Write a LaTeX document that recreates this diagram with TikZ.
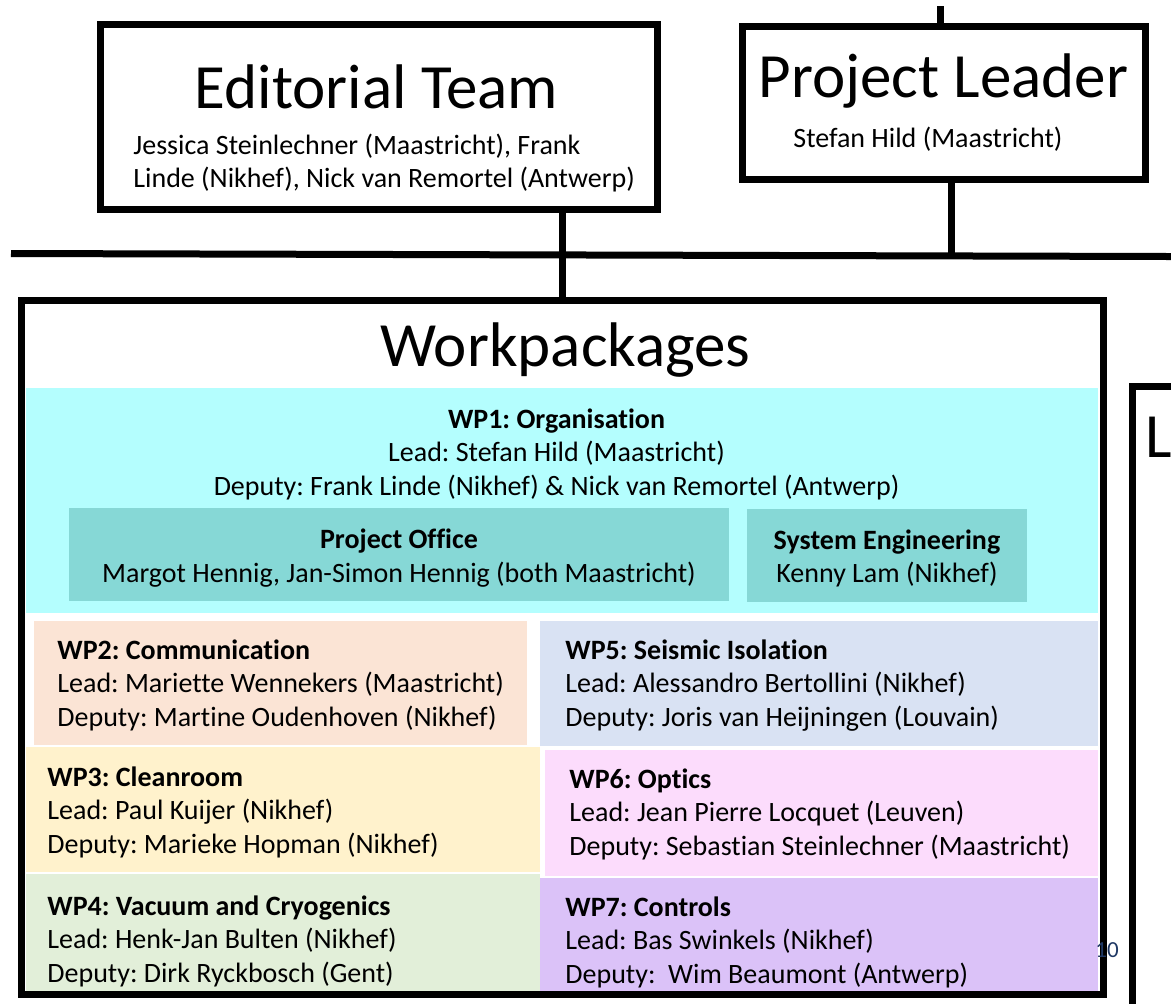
\documentclass[tikz,border=0pt]{standalone}
\usepackage{fontspec}
\setmainfont[Ligatures=NoCommon]{Carlito}
\frenchspacing
\usetikzlibrary{positioning}
\definecolor{wpone}{HTML}{B4FEFE}
\definecolor{office}{HTML}{86D8D6}
\definecolor{wptwo}{HTML}{FBE4D5}
\definecolor{wpthree}{HTML}{FFF2CC}
\definecolor{wpfour}{HTML}{E2EFD9}
\definecolor{wpfive}{HTML}{D9E2F3}
\definecolor{wpsix}{HTML}{FCDCFC}
\definecolor{wpseven}{HTML}{DBC2F8}
\definecolor{slidenum}{HTML}{1F3864}
\begin{document}
\begin{tikzpicture}[x=0.5pt,y=-0.5pt,
	box/.style={draw,line width=3.5pt,inner sep=0pt},
	wire/.style={line width=3.5pt},
	big/.style={font=\fontsize{31.5}{37}\selectfont,inner sep=0pt,anchor=base},
	txt/.style={font=\fontsize{14}{17}\selectfont,inner sep=0pt,anchor=base west},
	ctxt/.style={font=\fontsize{14}{17}\selectfont,inner sep=0pt,anchor=base}]
	\useasboundingbox (0,0) rectangle (1171,1003);
	\clip (0,0) rectangle (1171,1003);
	% coloured panels inside the workpackages box
	\fill[wpone] (26,388) rectangle (1098,613);
	\node[fill=office,minimum width=330pt,minimum height=46.5pt,inner sep=0pt] (office) at (399,554.5) {};
	\node[fill=office,minimum width=140pt,minimum height=46.5pt,inner sep=0pt] (syseng) at (887,555.5) {};
	\fill[wptwo] (34,621) rectangle (527,745);
	\fill[wpthree] (26,747) rectangle (540,872);
	\fill[wpfour] (26,874) rectangle (540,993);
	\fill[wpfive] (540,621) rectangle (1098,746);
	\fill[wpsix] (545,750) rectangle (1098,876);
	\fill[wpseven] (540,878) rectangle (1098,993);
	% boxes
	\node[box,minimum width=278.5pt,minimum height=92.5pt] (ET) at (379,117) {};
	\node[box,minimum width=201.5pt,minimum height=76.5pt] (PL) at (944,103) {};
	\node[box,minimum width=541pt,minimum height=347pt] (WP) at (562.5,647.5) {};
	\draw[wire] (1132.5,1010) -- (1132.5,386.5) -- (1180,386.5);
	\node[inner sep=0pt,anchor=base west,text=slidenum,font=\fontsize{11.5}{13}\selectfont] (num) at (1095,957) {10};
	% titles
	\node[big] (ETtitle) at (376.5,108) {Editorial Team};
	\node[big] (PLtitle) at (943.5,97) {Project Leader};
	\node[big] (WPtitle) at (565.5,366) {Workpackages};
	\node[big,anchor=base west] (Ltitle) at (1145,457) {L};
	\node[txt] (ETa) at (133,154) {Jessica Steinlechner (Maastricht), Frank};
	\node[txt] (ETb) at (133,187.5) {Linde (Nikhef), Nick van Remortel (Antwerp)};
	\node[txt] (PLa) at (793,147) {Stefan Hild (Maastricht)};
	% WP1
	\node[ctxt] (wp1a) at (556.5,428) {\bfseries WP1: Organisation};
	\node[ctxt] (wp1b) at (556.5,461.5) {Lead: Stefan Hild (Maastricht)};
	\node[ctxt] (wp1c) at (556.5,495) {Deputy: Frank Linde (Nikhef) \& Nick van Remortel (Antwerp)};
	\node[ctxt] (offa) at (office |- 0,548) {\bfseries Project Office};
	\node[ctxt] (offb) at (office |- 0,582) {Margot Hennig, Jan-Simon Hennig (both Maastricht)};
	\node[ctxt] (sysa) at (syseng |- 0,549) {\bfseries System Engineering};
	\node[ctxt] (sysb) at (syseng |- 0,582) {Kenny Lam (Nikhef)};
	% WP2 to WP7
	\node[txt] (wp2a) at (57,659) {\bfseries WP2: Communication};
	\node[txt] (wp2b) at (57,692.5) {Lead: Mariette Wennekers (Maastricht)};
	\node[txt] (wp2c) at (57,726) {Deputy: Martine Oudenhoven (Nikhef)};
	\node[txt] (wp3a) at (47,786) {\bfseries WP3: Cleanroom};
	\node[txt] (wp3b) at (47,819.5) {Lead: Paul Kuijer (Nikhef)};
	\node[txt] (wp3c) at (47,853) {Deputy: Marieke Hopman (Nikhef)};
	\node[txt] (wp4a) at (47,915) {\bfseries WP4: Vacuum and Cryogenics};
	\node[txt] (wp4b) at (47,948.5) {Lead: Henk-Jan Bulten (Nikhef)};
	\node[txt] (wp4c) at (47,982) {Deputy: Dirk Ryckbosch (Gent)};
	\node[txt] (wp5a) at (565,659) {\bfseries WP5: Seismic Isolation};
	\node[txt] (wp5b) at (565,692.5) {Lead: Alessandro Bertollini (Nikhef)};
	\node[txt] (wp5c) at (565,726) {Deputy: Joris van Heijningen (Louvain)};
	\node[txt] (wp6a) at (569,788) {\bfseries WP6: Optics};
	\node[txt] (wp6b) at (569,821.5) {Lead: Jean Pierre Locquet (Leuven)};
	\node[txt] (wp6c) at (569,855) {Deputy: Sebastian Steinlechner (Maastricht)};
	\node[txt] (wp7a) at (565,916) {\bfseries WP7: Controls};
	\node[txt] (wp7b) at (565,949.5) {Lead: Bas Swinkels (Nikhef)};
	\node[txt] (wp7c) at (565,983) {Deputy:~ Wim Beaumont (Antwerp)};
	% connectors
	\coordinate (top) at (940,6);
	\coordinate (busW) at (11,253.5);
	\coordinate (busE) at (1171,256.5);
	\coordinate (plbus) at (951,255);
	\draw[wire] (top) -- (top |- PL.north);
	\draw[wire] (plbus |- PL.south) -- (plbus);
	\draw[wire] (busW) -- (busE);
	\draw[wire] (WP.north) -- (WP.north |- ET.south);
\end{tikzpicture}
\end{document}
